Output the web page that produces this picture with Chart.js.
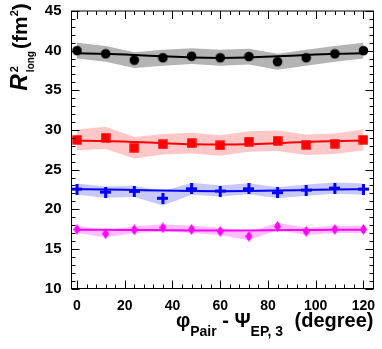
<!DOCTYPE html>
<html><head><meta charset="utf-8">
<script src="https://cdn.jsdelivr.net/npm/chart.js@4.4.1/dist/chart.umd.min.js"></script>
<style>html,body{margin:0;padding:0;background:#fff;overflow:hidden}canvas{display:block}</style>
</head><body><canvas id="c" width="382" height="349"></canvas>
<script>
// ---- data ----
const phiPair = [0, 12, 24, 36, 48, 60, 72, 84, 96, 108, 120];
const xTickLabels = [0, 20, 40, 60, 80, 100, 120];
const yTickLabels = [10, 15, 20, 25, 30, 35, 40, 45];

const blackVals = [40.0, 39.6, 38.8, 39.1, 39.3, 39.1, 39.25, 38.6, 39.1, 39.6, 40.0];
const blackErr  = [1.0, 1.0, 1.0, 1.0, 1.0, 1.0, 1.0, 1.0, 1.0, 1.0, 1.0];
const blackFit  = [39.66, 39.6, 39.46, 39.28, 39.13, 39.08, 39.13, 39.28, 39.46, 39.6, 39.66];

const redVals = [28.75, 29.0, 27.75, 28.2, 28.33, 28.04, 28.54, 28.63, 28.13, 28.25, 28.75];
const redErr  = [1.3, 1.4, 1.35, 1.3, 1.3, 1.3, 1.3, 1.3, 1.3, 1.3, 1.3];
const redFit  = [28.65, 28.6, 28.48, 28.33, 28.2, 28.15, 28.2, 28.33, 28.48, 28.6, 28.65];

const blueVals = [22.54, 22.16, 22.25, 21.38, 22.58, 22.29, 22.58, 22.08, 22.41, 22.66, 22.54];
const blueErr  = [0.7, 0.7, 0.7, 0.9, 0.75, 0.7, 0.7, 0.7, 0.7, 0.7, 0.7];
const blueFit  = [22.52, 22.49, 22.42, 22.35, 22.3, 22.28, 22.3, 22.35, 22.42, 22.49, 22.52];

const magVals = [17.45, 16.9, 17.41, 17.66, 17.45, 17.2, 16.58, 17.83, 17.2, 17.45, 17.45];
const magErr  = [0.45, 0.45, 0.45, 0.45, 0.45, 0.45, 0.5, 0.45, 0.45, 0.45, 0.45];
const magFit  = [17.42, 17.41, 17.38, 17.35, 17.32, 17.31, 17.32, 17.35, 17.38, 17.41, 17.42];

// ---- markers ----
function mk(w, h, draw) { const c = document.createElement('canvas'); c.width = w; c.height = h; const g = c.getContext('2d'); draw(g); return c; }
const circleImg = mk(11, 11, g => { g.fillStyle = '#000'; g.beginPath(); g.arc(5.5, 5.5, 4.8, 0, Math.PI * 2); g.fill(); });
const squareImg = mk(10, 10, g => { g.fillStyle = '#ff0000'; g.fillRect(0.3, 0.3, 9.4, 9.4); });
const crossImg = mk(11, 11, g => { g.fillStyle = '#0000ff'; g.fillRect(0, 4, 11, 3); g.fillRect(4, 0, 3, 11); });
const diamondImg = mk(7, 11, g => { g.fillStyle = '#ff00ff'; g.beginPath(); g.moveTo(3.5, 0); g.lineTo(7, 5.5); g.lineTo(3.5, 11); g.lineTo(0, 5.5); g.closePath(); g.fill(); });

const pts = (ys) => phiPair.map((x, i) => ({ x, y: ys[i] }));
const band = (ys, es, s) => phiPair.map((x, i) => ({ x, y: ys[i] + s * es[i] }));

function series(vals, err, fit, color, bandColor, img) {
  return [
    { data: band(vals, err, 1), borderWidth: 0, pointRadius: 0, fill: '+1', backgroundColor: bandColor, tension: 0, order: 3 },
    { data: band(vals, err, -1), borderWidth: 0, pointRadius: 0, fill: false, tension: 0, order: 3 },
    { data: pts(fit), borderColor: color, borderWidth: 2, pointRadius: 0, fill: false, cubicInterpolationMode: 'monotone', order: 2 },
    { data: pts(vals), showLine: false, pointStyle: img, pointRadius: 5, order: 1, clip: false }
  ];
}

const datasets = [
  ...series(blackVals, blackErr, blackFit, '#000000', '#b4b4b4', circleImg),
  ...series(redVals, redErr, redFit, '#ff0000', '#ffc8c8', squareImg),
  ...series(blueVals, blueErr, blueFit, '#0000ff', '#c8c8fa', crossImg),
  ...series(magVals, magErr, magFit, '#ff00ff', '#ffbeff', diamondImg)
];

const FONT = '"Liberation Sans", Arial, Helvetica, sans-serif';

function layoutRuns(ctx, list) {
  let x = 0; const out = [];
  for (let i = 0; i < list.length; i++) {
    const r = list[i]; ctx.font = r.f; const w = ctx.measureText(r.t).width;
    if (r.stack) {
      const n = list[i + 1]; ctx.font = n.f; const w2 = ctx.measureText(n.t).width;
      out.push({ ...r, x }); out.push({ ...n, x });
      x += Math.max(w, w2) + (n.sp || 0); i++;
    } else { out.push({ ...r, x }); x += w + (r.sp || 0); }
  }
  return { items: out, width: x };
}
function drawRuns(ctx, items) {
  ctx.textBaseline = 'alphabetic'; ctx.textAlign = 'left'; ctx.fillStyle = '#000';
  for (const r of items) { ctx.font = r.f; ctx.fillText(r.t, r.x, r.dy || 0); }
}

const framePlugin = {
  id: 'frame',
  afterDraw(chart) {
    const { ctx, chartArea: a, scales: { x, y } } = chart;
    ctx.save();
    ctx.strokeStyle = '#000'; ctx.lineWidth = 1;
    ctx.strokeRect(a.left, a.top, a.right - a.left, a.bottom - a.top);
    ctx.beginPath();
    for (let v = 0; v <= x.max; v += 4) {
      const p = Math.round(x.getPixelForValue(v)) + 0.5;
      const L = (v % 20 === 0) ? 8 : 4;
      ctx.moveTo(p, a.bottom); ctx.lineTo(p, a.bottom - L);
      ctx.moveTo(p, a.top); ctx.lineTo(p, a.top + L);
    }
    for (let v = 10; v <= 45; v += 1) {
      const p = Math.round(y.getPixelForValue(v)) + 0.5;
      const L = (v % 5 === 0) ? 8 : 4;
      ctx.moveTo(a.left, p); ctx.lineTo(a.left + L, p);
      ctx.moveTo(a.right, p); ctx.lineTo(a.right - L, p);
    }
    ctx.stroke();

    // y title
    const yt = layoutRuns(ctx, [
      { t: 'R', f: 'italic bold 23px ' + FONT, sp: 2 },
      { t: '2', f: 'bold 11px ' + FONT, dy: -9, stack: true },
      { t: 'long', f: 'bold 10px ' + FONT, dy: 6.5, sp: 2 },
      { t: '(fm', f: 'bold 21px ' + FONT },
      { t: '2', f: 'bold 11px ' + FONT, dy: -9 },
      { t: ')', f: 'bold 21px ' + FONT }
    ]);
    ctx.save();
    ctx.translate(27, 47 + yt.width / 2);
    ctx.rotate(-Math.PI / 2);
    drawRuns(ctx, yt.items);
    ctx.restore();

    // x title
    const xt = layoutRuns(ctx, [
      { t: 'φ', f: 'bold 20px ' + FONT },
      { t: 'Pair', f: 'bold 14px ' + FONT, dy: 9 },
      { t: ' - ', f: 'bold 20px ' + FONT },
      { t: 'Ψ', f: 'bold 20px ' + FONT },
      { t: 'EP, 3', f: 'bold 14px ' + FONT, dy: 9, sp: 6 },
      { t: ' (degree)', f: 'bold 20px ' + FONT }
    ]);
    ctx.save();
    ctx.translate(373.5 - xt.width, 327);
    drawRuns(ctx, xt.items);
    ctx.restore();
    ctx.restore();
  }
};

new Chart(document.getElementById('c'), {
  type: 'line',
  data: { datasets },
  options: {
    responsive: false, animation: false, devicePixelRatio: 1,
    layout: { padding: { left: 0, right: 8.5, top: 10.5, bottom: 0 } },
    plugins: { legend: { display: false }, tooltip: { enabled: false } },
    scales: {
      x: {
        type: 'linear', min: -2.3, max: 124.2,
        grid: { display: false }, border: { display: false },
        afterBuildTicks: s => { s.ticks = xTickLabels.map(v => ({ value: v })); },
        ticks: { color: '#000', font: { family: FONT, weight: 'bold', size: 14 }, padding: 1, maxRotation: 0, autoSkip: false },
        afterFit: s => { s.height = 60.5; }
      },
      y: {
        type: 'linear', min: 10, max: 45,
        grid: { display: false }, border: { display: false },
        afterBuildTicks: s => { s.ticks = yTickLabels.map(v => ({ value: v })); },
        ticks: { color: '#000', font: { family: FONT, weight: 'bold', size: 15 }, padding: 2, autoSkip: false },
        afterFit: s => { s.width = 71.5; }
      }
    }
  },
  plugins: [framePlugin]
});
</script>
</body></html>
